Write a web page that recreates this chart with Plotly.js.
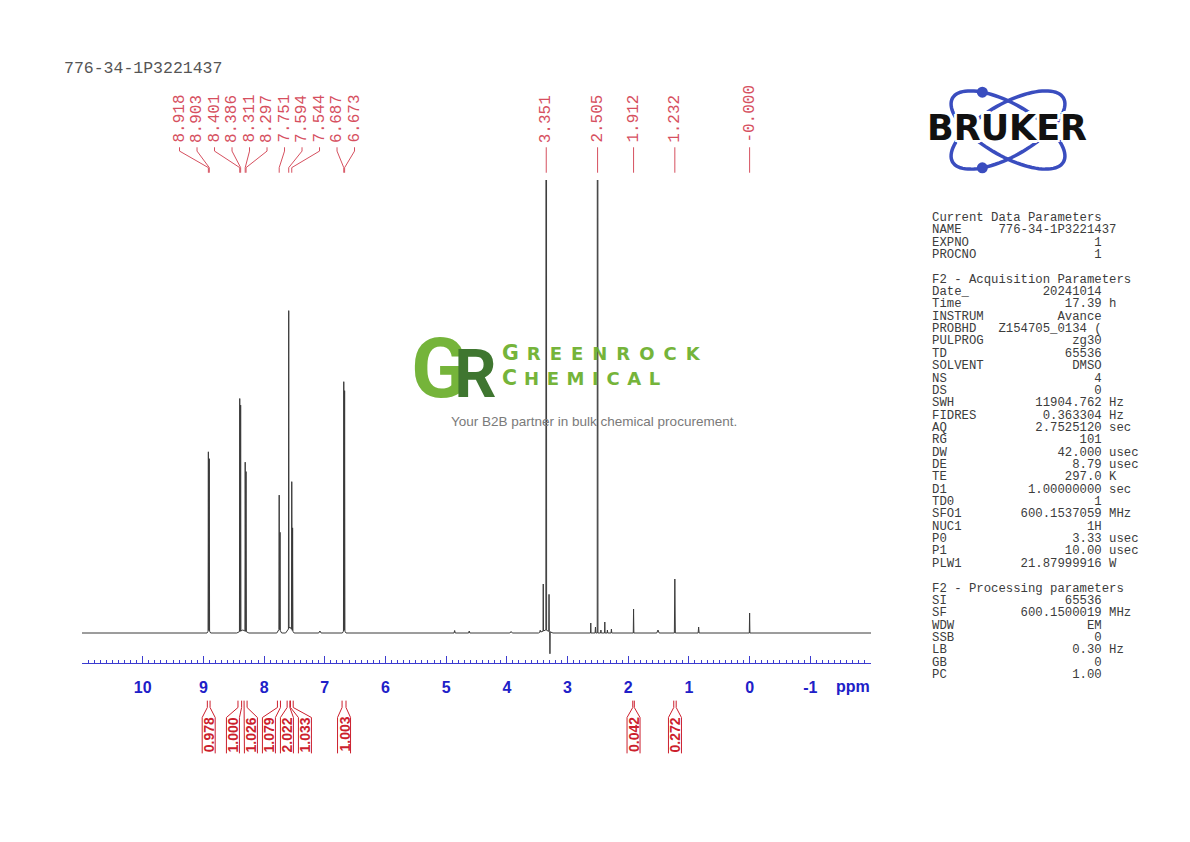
<!DOCTYPE html>
<html><head><meta charset="utf-8">
<script src="https://cdn.plot.ly/plotly-3.0.1.min.js"></script>
<style>html,body{margin:0;padding:0;background:#fff}</style>
</head><body><div id="chart" style="width:1190px;height:842px"></div>
<script>
// ================= DATA =================
const sampleName = '776-34-1P3221437';

// spectrum peaks: chemical shift (ppm), height above baseline (px-scaled units), half width at base (ppm)
const peakPpm       = [8.918, 8.903, 8.91, 8.401, 8.386, 8.311, 8.297, 8.35, 7.751, 7.737, 7.75, 7.594, 7.544, 7.530, 7.575, 6.687, 6.673, 6.68,
                       7.08, 4.86, 4.62, 3.93, 3.45, 3.36, 3.40, 3.351, 3.305, 3.29,
                       2.617, 2.54, 2.505, 2.45, 2.386, 2.343, 2.277, 1.912, 1.51, 1.232, 0.84, 0.000];
const peakHeight    = [179, 172, 3, 233, 226, 169, 160, 3, 134, 98, 4, 318, 148, 103, 6, 249, 240, 3,
                       2, 2.5, 2, 1.5, 2, 3, 47, 2500, 37, -22,
                       10, 6, 2500, 3, 11, 3, 4, 24, 3, 54, 6, 20];
const peakHalfWidth = [0.005, 0.005, 0.03, 0.005, 0.005, 0.005, 0.005, 0.1, 0.005, 0.005, 0.04, 0.005, 0.005, 0.005, 0.07, 0.005, 0.005, 0.03,
                       0.02, 0.01, 0.01, 0.02, 0.01, 0.12, 0.004, 0.006, 0.004, 0.004,
                       0.004, 0.006, 0.006, 0.006, 0.004, 0.005, 0.006, 0.005, 0.02, 0.008, 0.008, 0.005];

// peak pick labels
const shiftLabels  = ['8.918','8.903','8.401','8.386','8.311','8.297','7.751','7.594','7.544','6.687','6.673','3.351','2.505','1.912','1.232','-0.000'];
const shiftPpm     = [8.918, 8.903, 8.401, 8.386, 8.311, 8.297, 7.751, 7.594, 7.544, 6.687, 6.673, 3.351, 2.505, 1.912, 1.232, 0.000];

// integrals
const integralValues = ['0.978','1.000','1.026','1.079','2.022','1.033','1.003','0.042','0.272'];
const integralFrom   = [8.935, 8.43, 8.33, 7.78, 7.62, 7.565, 6.715, 1.925, 1.25];
const integralTo     = [8.89, 8.37, 8.28, 7.73, 7.575, 7.52, 6.65, 1.90, 1.21];

// axis
const axisTickValues = [10, 9, 8, 7, 6, 5, 4, 3, 2, 1, 0, -1];
const axisTickLabels = ['10','9','8','7','6','5','4','3','2','1','0','-1'];

// parameter block
const paramHead1 = 'Current Data Parameters';
const paramNames1 = ['NAME','EXPNO','PROCNO'];
const paramValues1 = ['776-34-1P3221437','1','1'];
const paramUnits1 = ['','',''];
const paramHead2 = 'F2 - Acquisition Parameters';
const paramNames2 = ['Date_','Time','INSTRUM','PROBHD','PULPROG','TD','SOLVENT','NS','DS','SWH','FIDRES','AQ','RG','DW','DE','TE','D1','TD0','SFO1','NUC1','P0','P1','PLW1'];
const paramValues2 = ['20241014','17.39','Avance','Z154705_0134 (','zg30','65536','DMSO','4','0','11904.762','0.363304','2.7525120','101','42.000','8.79','297.0','1.00000000','1','600.1537059','1H','3.33','10.00','21.87999916'];
const paramUnits2 = ['','h','','','','','','','','Hz','Hz','sec','','usec','usec','K','sec','','MHz','','usec','usec','W'];
const paramHead3 = 'F2 - Processing parameters';
const paramNames3 = ['SI','SF','WDW','SSB','LB','GB','PC'];
const paramValues3 = ['65536','600.1500019','EM','0','0.30','0','1.00'];
const paramUnits3 = ['','MHz','','','Hz','',''];

// ================= LAYOUT HELPERS =================
const W = 1190, H = 842;
const px2x = p => p / W;
const px2y = p => 1 - p / H;
const X_LEFT = 82, X_RIGHT = 871;
const PPM_MAX = 11, PPM_MIN = -2;
const pxPerPpm = (X_RIGHT - X_LEFT) / (PPM_MAX - PPM_MIN);

// spectrum polyline (sum of piecewise-linear peak shapes evaluated at their breakpoints)
const bp = new Set([PPM_MAX, PPM_MIN]);
peakPpm.forEach((p, i) => { const w = peakHalfWidth[i]; bp.add(+(p - w).toFixed(5)); bp.add(p); bp.add(+(p + w).toFixed(5)); });
const specX = [...bp].sort((a, b) => b - a);
const specY = specX.map(x => {
  let s = 0;
  peakPpm.forEach((p, i) => { const w = peakHalfWidth[i]; const d = Math.abs(x - p); if (d < w) s += peakHeight[i] * (1 - d / w); });
  return s;
});

// spread labels so they do not overlap
function spread(centers, sep) {
  let groups = centers.map((c, i) => ({ m: [i], mean: c }));
  let changed = true;
  while (changed) {
    changed = false;
    for (let g = 0; g < groups.length - 1; g++) {
      const A = groups[g], B = groups[g + 1];
      const aBot = A.mean - (A.m.length - 1) / 2 * sep;
      const bTop = B.mean + (B.m.length - 1) / 2 * sep;
      if (aBot - bTop < sep - 1e-9) {
        const m = A.m.concat(B.m);
        groups.splice(g, 2, { m: m, mean: m.reduce((s, k) => s + centers[k], 0) / m.length });
        changed = true; break;
      }
    }
  }
  const out = [];
  groups.forEach(G => G.m.forEach((idx, k) => { out[idx] = G.mean + ((G.m.length - 1) / 2 - k) * sep; }));
  return out;
}

const labelPos = spread(shiftPpm, 17.5 / pxPerPpm);
const intCenters = integralFrom.map((f, i) => (f + integralTo[i]) / 2);
const boxPos = spread(intCenters, 18 / pxPerPpm);
const boxHalf = 6.5 / pxPerPpm;

// connector lines (peak labels)
const conX = [], conY = [];
shiftPpm.forEach((p, i) => { conX.push(labelPos[i], labelPos[i], p, p, null); conY.push(1, 0.85, 0.2, 0, null); });
// integral brackets
const intX = [], intY = [];
integralValues.forEach((v, i) => {
  intX.push(integralFrom[i], integralFrom[i], boxPos[i] + boxHalf, boxPos[i] + boxHalf, null);
  intY.push(1, 0.87, 0.68, 0, null);
  intX.push(integralTo[i], integralTo[i], boxPos[i] - boxHalf, boxPos[i] - boxHalf, null);
  intY.push(1, 0.87, 0.68, 0, null);
});

const RED = '#d6505f', IRED = '#cc1f2d', BLUE = '#2020c8';

const traces = [
  { x: specX, y: specY, type: 'scatter', mode: 'lines', line: { color: '#3a3a3a', width: 1 }, xaxis: 'x', yaxis: 'y', hoverinfo: 'skip' },
  { x: conX, y: conY, type: 'scatter', mode: 'lines', line: { color: RED, width: 1 }, xaxis: 'x', yaxis: 'y3', hoverinfo: 'skip' },
  { x: intX, y: intY, type: 'scatter', mode: 'lines', line: { color: IRED, width: 1 }, xaxis: 'x', yaxis: 'y2', hoverinfo: 'skip' }
];

const ann = [];
const nb = s => s.replace(/ /g, '\u00A0');
// title
ann.push({ xref: 'paper', yref: 'paper', x: px2x(63), y: px2y(68), xanchor: 'left', yanchor: 'middle', showarrow: false, borderpad: 0,
  text: sampleName, font: { family: 'Liberation Mono', size: 16.5, color: '#555' } });
// peak labels
shiftLabels.forEach((t, i) => ann.push({ xref: 'x', yref: 'paper', x: labelPos[i], y: px2y(144), xanchor: 'center', yanchor: 'bottom',
  textangle: -90, showarrow: false, borderpad: 0, text: t, font: { family: 'Liberation Mono', size: 16, color: RED } }));
// integral labels
integralValues.forEach((t, i) => ann.push({ xref: 'x', yref: 'paper', x: boxPos[i], y: px2y(753), xanchor: 'center', yanchor: 'bottom',
  textangle: -90, showarrow: false, borderpad: 0, text: t, font: { family: 'Liberation Sans', size: 14, weight: 'bold', color: IRED } }));
// ppm
ann.push({ xref: 'paper', yref: 'paper', x: px2x(853), y: px2y(686), xanchor: 'center', yanchor: 'middle', showarrow: false, borderpad: 0,
  text: 'ppm', font: { family: 'Liberation Sans', size: 16, weight: 'bold', color: BLUE } });

// parameter block
const VCOL = 23;
function paramLine(n, v, u) {
  let start = VCOL - v.length; if (start < 9) start = 9;
  let s = n.padEnd(start, ' '); if (s.length > start) s += ' ';
  s += v; if (u) s += ' ' + u;
  return s;
}
const pLines = [paramHead1];
paramNames1.forEach((n, i) => pLines.push(paramLine(n, paramValues1[i], paramUnits1[i])));
pLines.push('');
pLines.push(paramHead2);
paramNames2.forEach((n, i) => pLines.push(paramLine(n, paramValues2[i], paramUnits2[i])));
pLines.push('');
pLines.push(paramHead3);
paramNames3.forEach((n, i) => pLines.push(paramLine(n, paramValues3[i], paramUnits3[i])));
pLines.forEach((l, k) => { if (!l) return; ann.push({ xref: 'paper', yref: 'paper', x: px2x(931), y: px2y(218 + k * 12.35), xanchor: 'left', yanchor: 'middle',
  showarrow: false, borderpad: 0, text: nb(l), font: { family: 'Liberation Mono', size: 12.3, color: '#3c3c3c' } }); });

// Bruker logo
const shapes = [];
const LC = '#3a4dbf';
function ell(cx, cy, a, b, th) {
  let d = '';
  for (let k = 0; k <= 90; k++) {
    const t = k / 90 * 2 * Math.PI;
    const x = cx + a * Math.cos(t) * Math.cos(th) - b * Math.sin(t) * Math.sin(th);
    const y = cy + a * Math.cos(t) * Math.sin(th) + b * Math.sin(t) * Math.cos(th);
    d += (k ? 'L' : 'M') + px2x(x).toFixed(5) + ',' + px2y(y).toFixed(5);
  }
  return d + 'Z';
}
const LCX = 1008, LCY = 130, LA = 64, LB = 26, TH = 30 * Math.PI / 180;
shapes.push({ type: 'path', xref: 'paper', yref: 'paper', path: ell(LCX, LCY, LA, LB, TH), line: { color: LC, width: 3.5 } });
shapes.push({ type: 'path', xref: 'paper', yref: 'paper', path: ell(LCX, LCY, LA, LB, -TH), line: { color: LC, width: 3.5 } });
const tDot = 230 * Math.PI / 180;
const dX = LCX + LA * Math.cos(tDot) * Math.cos(TH) - LB * Math.sin(tDot) * Math.sin(TH);
const dY = LCY + LA * Math.cos(tDot) * Math.sin(TH) + LB * Math.sin(tDot) * Math.cos(TH);
[[dX, dY], [dX, 2 * LCY - dY]].forEach(([x, y]) => shapes.push({ type: 'circle', xref: 'paper', yref: 'paper',
  x0: px2x(x - 5.5), x1: px2x(x + 5.5), y0: px2y(y + 5.5), y1: px2y(y - 5.5), fillcolor: LC, line: { color: LC, width: 0 } }));
ann.push({ xref: 'paper', yref: 'paper', x: px2x(1007), y: px2y(128), xanchor: 'center', yanchor: 'middle', showarrow: false, borderpad: 0,
  text: 'BRUKER', font: { family: 'DejaVu Sans', size: 35, weight: 'bold', color: '#111',
  shadow: '3px 0 0 #fff, -3px 0 0 #fff, 0 3px 0 #fff, 0 -3px 0 #fff, 2px 2px 0 #fff, -2px -2px 0 #fff, 2px -2px 0 #fff, -2px 2px 0 #fff' } });

// watermark
const GL = '#6aae2a', GD = '#2f6b1f';
ann.push({ xref: 'paper', yref: 'paper', x: px2x(498), y: px2y(368), xanchor: 'right', yanchor: 'middle', showarrow: false, borderpad: 0, opacity: 0.92,
  text: '<span style="letter-spacing:-14px">G</span><span style="color:' + GD + ';font-size:66px">R</span>',
  font: { family: 'Roboto', size: 84, weight: 'bold', color: GL } });
ann.push({ xref: 'paper', yref: 'paper', x: px2x(501), y: px2y(352.5), xanchor: 'left', yanchor: 'middle', showarrow: false, borderpad: 0, opacity: 0.92,
  text: '<span style="font-size:20.5px;letter-spacing:8px">G</span><span style="letter-spacing:9px">REENROCK</span>',
  font: { family: 'DejaVu Sans', size: 18, weight: 'bold', color: GL } });
ann.push({ xref: 'paper', yref: 'paper', x: px2x(501), y: px2y(377.5), xanchor: 'left', yanchor: 'middle', showarrow: false, borderpad: 0, opacity: 0.92,
  text: '<span style="font-size:20.5px;letter-spacing:7px">C</span><span style="letter-spacing:7.6px">HEMICAL</span>',
  font: { family: 'DejaVu Sans', size: 18, weight: 'bold', color: GL } });
ann.push({ xref: 'paper', yref: 'paper', x: px2x(594), y: px2y(421), xanchor: 'center', yanchor: 'middle', showarrow: false, borderpad: 0,
  text: 'Your B2B partner in bulk chemical procurement.', font: { family: 'Liberation Sans', size: 13.5, color: '#7a7a7a' } });

const layout = {
  width: W, height: H, margin: { l: 0, r: 0, t: 0, b: 0 },
  paper_bgcolor: '#fff', plot_bgcolor: 'rgba(0,0,0,0)', showlegend: false,
  xaxis: {
    domain: [px2x(X_LEFT), px2x(X_RIGHT)], range: [PPM_MAX, PPM_MIN], anchor: 'y',
    showgrid: false, zeroline: false, showline: true, linecolor: '#3c3cd0', linewidth: 1,
    ticks: 'inside', ticklen: 7, tickwidth: 1, tickcolor: '#3c3cd0',
    tickmode: 'array', tickvals: axisTickValues, ticktext: axisTickLabels, ticklabelstandoff: 10,
    tickfont: { family: 'Liberation Sans', size: 16, weight: 'bold', color: BLUE },
    minor: { tickmode: 'linear', tick0: 0, dtick: 0.1, ticks: 'inside', ticklen: 3.5, tickwidth: 1, tickcolor: '#3c3cd0', showgrid: false }
  },
  yaxis: { domain: [px2y(663), px2y(180)], range: [-30, 453], visible: false, anchor: 'x' },
  yaxis2: { domain: [px2y(756), px2y(698)], range: [-0.05, 1.05], visible: false, anchor: 'x' },
  yaxis3: { domain: [px2y(174), px2y(146)], range: [-0.05, 1.05], visible: false, anchor: 'x' },
  annotations: ann, shapes: shapes
};

Plotly.newPlot('chart', traces, layout, { staticPlot: true });
</script></body></html>
